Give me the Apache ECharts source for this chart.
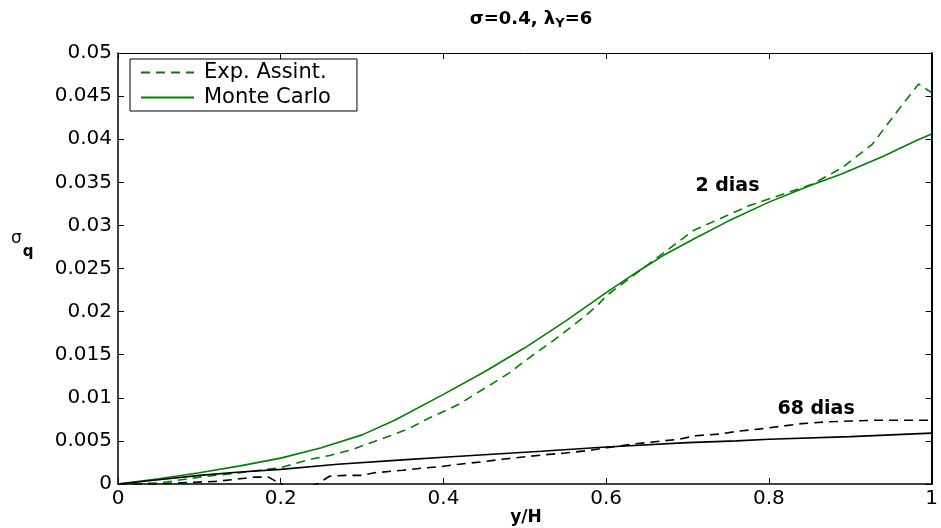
<!DOCTYPE html>
<html>
<head>
<meta charset="utf-8">
<script src="https://cdn.jsdelivr.net/npm/echarts@6/dist/echarts.min.js"></script>
<style>
  html, body { margin: 0; padding: 0; background: #fff; }
  #chart { width: 941px; height: 528px; }
</style>
</head>
<body>
<div id="chart"></div>
<script>
// sigma_q versus y/H for horizons of 2 and 68 days (sigma = 0.4, lambda_Y = 6)

// 2 dias — asymptotic expansion
const xExp2 = [0, 0.05, 0.1, 0.15, 0.2, 0.238, 0.26, 0.288, 0.308, 0.332, 0.357, 0.377, 0.4, 0.42, 0.44, 0.461, 0.481, 0.499, 0.518, 0.536, 0.554, 0.573, 0.589, 0.601, 0.642, 0.707, 0.776, 0.854, 0.89, 0.927, 0.955, 0.984, 1.0];
const yExp2 = [0, 0.0001, 0.0008, 0.0013, 0.0019, 0.0029, 0.0033, 0.0040, 0.0047, 0.0055, 0.0064, 0.0074, 0.0084, 0.0093, 0.0105, 0.0117, 0.0129, 0.0142, 0.0155, 0.0167, 0.0180, 0.0194, 0.0207, 0.0219, 0.0248, 0.0294, 0.0323, 0.0348, 0.0367, 0.0394, 0.0429, 0.0464, 0.0454];

// 2 dias — Monte Carlo
const xMC2 = [0, 0.05, 0.1, 0.15, 0.2, 0.25, 0.3, 0.34, 0.4, 0.45, 0.5, 0.55, 0.6, 0.638, 0.67, 0.707, 0.75, 0.8, 0.85, 0.89, 0.94, 0.98, 1.0];
const yMC2 = [0, 0.0006, 0.0013, 0.0021, 0.0030, 0.0042, 0.0057, 0.0074, 0.0104, 0.0130, 0.0158, 0.0189, 0.0222, 0.0246, 0.0265, 0.0284, 0.0305, 0.0327, 0.0346, 0.0360, 0.0380, 0.0398, 0.0406];

// 68 dias — asymptotic expansion
const xExp68 = [0, 0.05, 0.09, 0.12, 0.14, 0.168, 0.185, 0.2, 0.21, 0.23, 0.245, 0.25, 0.26, 0.28, 0.3, 0.315, 0.35, 0.37, 0.395, 0.42, 0.45, 0.475, 0.505, 0.525, 0.55, 0.58, 0.6, 0.63, 0.66, 0.69, 0.71, 0.74, 0.76, 0.79, 0.815, 0.84, 0.87, 0.9, 0.93, 1.0];
const yExp68 = [0, 0.0000, 0.0002, 0.0003, 0.0005, 0.0008, 0.0008, 0.0000, -0.0004, -0.0004, 0.0000, 0.0003, 0.0009, 0.0010, 0.0010, 0.0013, 0.0016, 0.0018, 0.0020, 0.0023, 0.0026, 0.0029, 0.0032, 0.0034, 0.0036, 0.0039, 0.0042, 0.0046, 0.0049, 0.0052, 0.0056, 0.0058, 0.0061, 0.0064, 0.0067, 0.0070, 0.0072, 0.0073, 0.0074, 0.0074];

// 68 dias — Monte Carlo
const xMC68 = [0, 0.05, 0.1, 0.15, 0.2, 0.27, 0.35, 0.4, 0.45, 0.52, 0.6, 0.7, 0.76, 0.8, 0.9, 1.0];
const yMC68 = [0, 0.0005, 0.0010, 0.0014, 0.0017, 0.0023, 0.0028, 0.0031, 0.0034, 0.0038, 0.0043, 0.0048, 0.0050, 0.0052, 0.0055, 0.0059];

// axis ticks
const xTicks = [0, 0.2, 0.4, 0.6, 0.8, 1];
const xTickLabels = ['0', '0.2', '0.4', '0.6', '0.8', '1'];
const yTicks = [0, 0.005, 0.01, 0.015, 0.02, 0.025, 0.03, 0.035, 0.04, 0.045, 0.05];
const yTickLabels = ['0', '0.005', '0.01', '0.015', '0.02', '0.025', '0.03', '0.035', '0.04', '0.045', '0.05'];

// curve annotations
const noteText = ['2 dias', '68 dias'];
const noteX = [0.749, 0.858];
const noteY = [0.0347, 0.0089];

const GREEN = '#008000';
const FONT = 'DejaVu Sans';

function pairs(xs, ys) { return xs.map((x, i) => [x, ys[i]]); }
function tickLabel(ticks, labels) {
  return function (v) {
    for (let i = 0; i < ticks.length; i++) {
      if (Math.abs(ticks[i] - v) < 1e-9) return labels[i];
    }
    return '';
  };
}

const chart = echarts.init(document.getElementById('chart'), null, { renderer: 'canvas' });

const axisLine = { show: true, onZero: false, lineStyle: { color: '#000', width: 1.5 } };
const axisTick = { show: true, inside: true, length: 6, lineStyle: { color: '#000', width: 1 } };

chart.setOption({
  animation: false,
  backgroundColor: '#fff',
  grid: { left: 118, right: 5, top: 53, bottom: 44, containLabel: false },
  title: [
    {
      text: '{a|σ=0.4, λ}{s|Y}{a|=6}',
      left: 531, top: 8, textAlign: 'center', padding: 0,
      textStyle: {
        rich: {
          a: { fontFamily: FONT, fontWeight: 'bold', fontSize: 18, color: '#000', lineHeight: 22 },
          s: { fontFamily: FONT, fontWeight: 'bold', fontSize: 13, color: '#000', lineHeight: 22, padding: [9, 0, 0, 0] }
        }
      }
    },
    {
      text: '{a|σ}{s|q}',
      left: 11, top: 234, padding: 0,
      textStyle: {
        fontWeight: 'normal',
        rich: {
          a: { fontFamily: FONT, fontWeight: 'normal', fontSize: 17, color: '#000', lineHeight: 22, padding: [0, 0, 12, 0] },
          s: { fontFamily: FONT, fontWeight: 'bold', fontSize: 15, color: '#000', lineHeight: 22, padding: [14, 0, 0, 1] }
        }
      }
    }
  ],
  graphic: [
    {
      type: 'text', x: 526, y: 518,
      style: {
        text: 'y/H', align: 'center', verticalAlign: 'middle',
        fontFamily: FONT, fontWeight: 'bold', fontSize: 17, fill: '#000'
      }
    }
  ],
  legend: {
    data: ['Exp. Assint.', 'Monte Carlo'],
    orient: 'vertical',
    left: 130, top: 59,
    backgroundColor: '#fff',
    borderColor: '#000', borderWidth: 1, borderRadius: 0,
    padding: [3, 26, 3, 10],
    itemGap: 4,
    itemWidth: 53, itemHeight: 14,
    selectedMode: false,
    itemStyle: { opacity: 0 },
    textStyle: { fontFamily: FONT, fontSize: 21, color: '#000', padding: [0, 0, 0, 5] }
  },
  xAxis: [
    {
      type: 'value', min: 0, max: 1, interval: 0.2, position: 'bottom',
      axisLine, axisTick, splitLine: { show: false },
      axisLabel: { formatter: tickLabel(xTicks, xTickLabels), fontFamily: FONT, fontSize: 20, color: '#000', margin: 5 }
    },
    {
      type: 'value', min: 0, max: 1, interval: 0.2, position: 'top',
      axisLine: { show: true, onZero: false, lineStyle: { color: '#000', width: 1 } },
      axisTick, axisLabel: { show: false }, splitLine: { show: false }
    }
  ],
  yAxis: [
    {
      type: 'value', min: 0, max: 0.05, interval: 0.005, position: 'left',
      axisLine, axisTick, splitLine: { show: false },
      axisLabel: { formatter: tickLabel(yTicks, yTickLabels), fontFamily: FONT, fontSize: 20, color: '#000', margin: 6 }
    },
    {
      type: 'value', min: 0, max: 0.05, interval: 0.005, position: 'right',
      axisLine: { show: true, onZero: false, lineStyle: { color: '#000', width: 2 } },
      axisTick, axisLabel: { show: false }, splitLine: { show: false }
    }
  ],
  series: [
    {
      name: 'Exp. Assint.', type: 'line', data: pairs(xExp2, yExp2),
      showSymbol: false, symbol: 'none', clip: true,
      lineStyle: { color: GREEN, width: 1.6, type: [9, 6] },
      itemStyle: { color: GREEN }
    },
    {
      name: 'Monte Carlo', type: 'line', data: pairs(xMC2, yMC2),
      showSymbol: false, symbol: 'none', clip: true,
      lineStyle: { color: GREEN, width: 1.6 },
      itemStyle: { color: GREEN }
    },
    {
      name: 'Exp. Assint. 68', type: 'line', data: pairs(xExp68, yExp68),
      showSymbol: false, symbol: 'none', clip: true,
      lineStyle: { color: '#000', width: 1.6, type: [9, 6] },
      itemStyle: { color: '#000' }
    },
    {
      name: 'Monte Carlo 68', type: 'line', data: pairs(xMC68, yMC68),
      showSymbol: false, symbol: 'none', clip: true,
      lineStyle: { color: '#000', width: 1.6 },
      itemStyle: { color: '#000' }
    },
    {
      name: 'notes', type: 'scatter', silent: true, symbolSize: 0,
      itemStyle: { opacity: 1 },
      data: noteText.map((t, i) => ({ value: [noteX[i], noteY[i]], name: t })),
      label: {
        show: true, position: 'top', distance: 0, offset: [0, 11], formatter: p => p.name,
        fontFamily: FONT, fontWeight: 'bold', fontSize: 19, color: '#000'
      }
    }
  ]
});
</script>
</body>
</html>
